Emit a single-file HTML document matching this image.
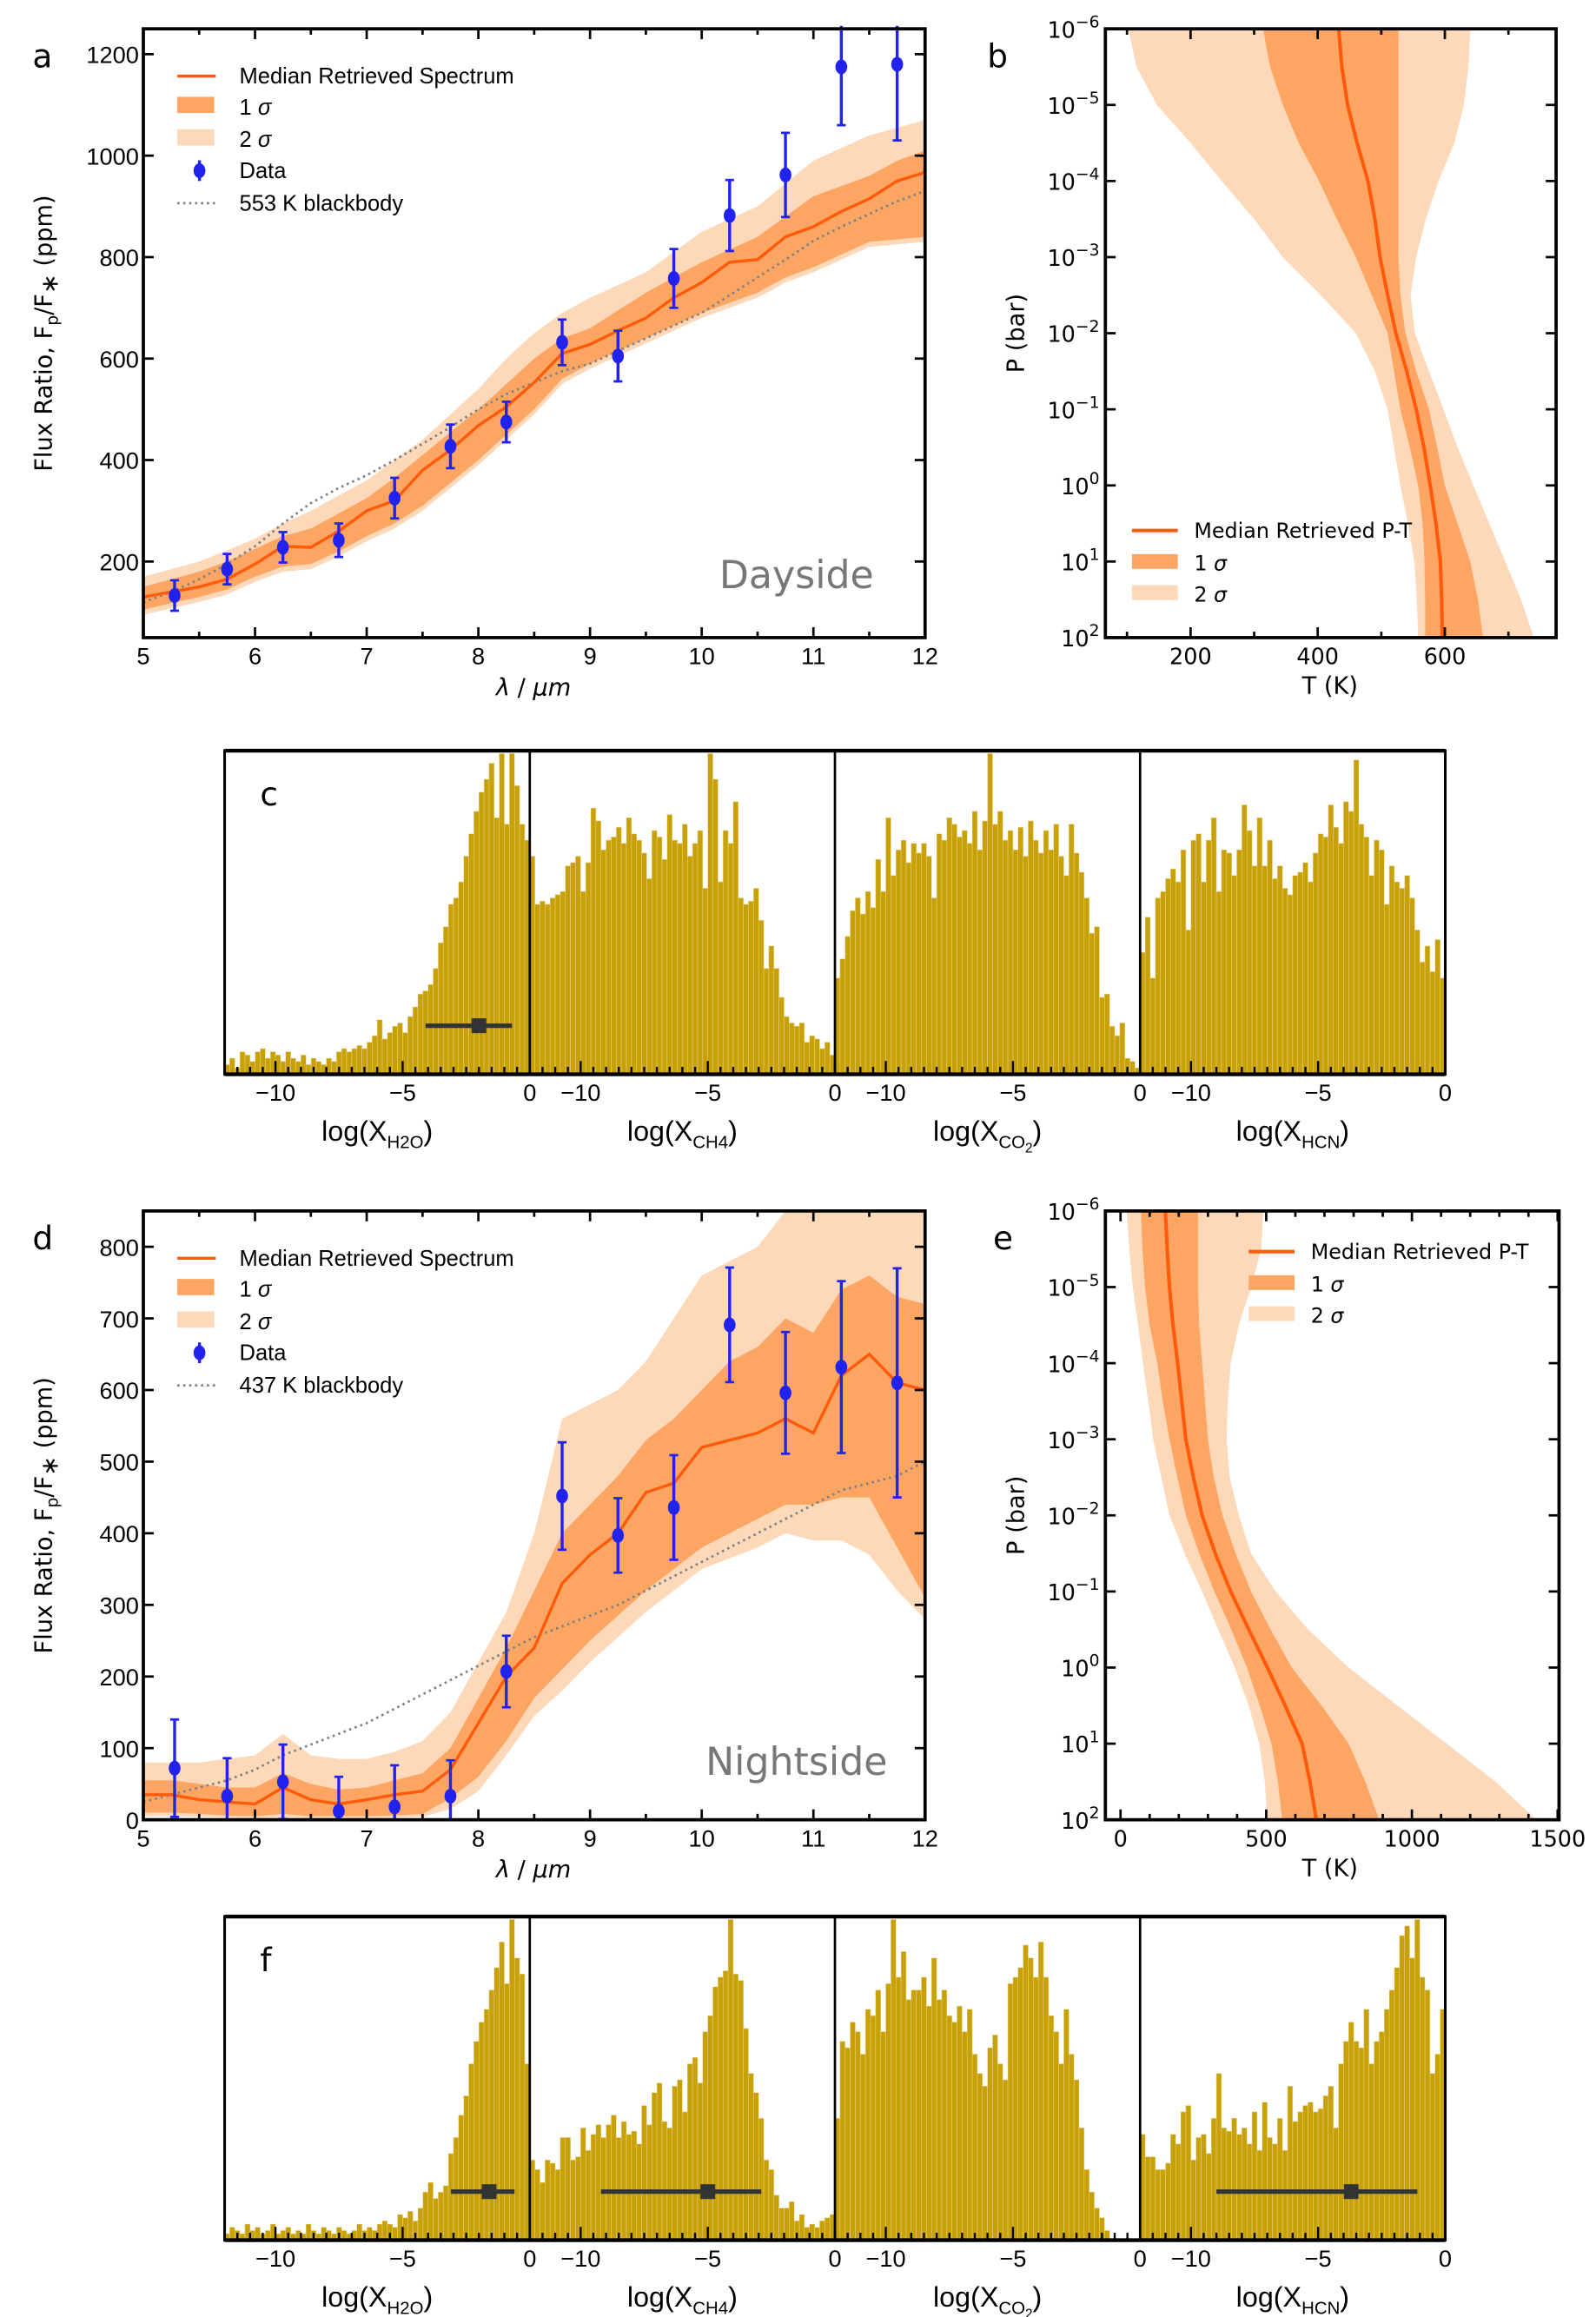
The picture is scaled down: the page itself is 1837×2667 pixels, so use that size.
<!DOCTYPE html>
<html><head><meta charset="utf-8">
<style>
html,body{margin:0;padding:0;background:#fff;}
svg{display:block;}
.tk{font-family:"Liberation Sans Narrow","Liberation Sans",sans-serif;font-size:16px;fill:#000;}
.tkw{font-family:"DejaVu Sans","Liberation Sans",sans-serif;font-size:15px;fill:#000;}
.lg{font-family:"Liberation Sans Narrow","Liberation Sans",sans-serif;font-size:15px;fill:#000;}
.lgw{font-family:"DejaVu Sans","Liberation Sans",sans-serif;font-size:14px;fill:#000;}
.lab{font-family:"DejaVu Sans","Liberation Sans",sans-serif;font-size:16px;fill:#000;}
.lett{font-family:"DejaVu Sans","Liberation Sans",sans-serif;font-size:22px;fill:#000;}
</style></head>
<body>
<svg id="fig" xmlns="http://www.w3.org/2000/svg" width="1837" height="2667" viewBox="0 0 1080 1568" preserveAspectRatio="none"></svg>
<script>
// ---------- DATA ----------
const wlGrid = [5,5.25,5.5,5.75,6,6.25,6.5,6.75,7,7.25,7.5,7.75,8,8.25,8.5,8.75,9,9.25,9.5,9.75,10,10.25,10.5,10.75,11,11.25,11.5,11.75,12];
const dataWl = [5.28,5.75,6.25,6.75,7.25,7.75,8.25,8.75,9.25,9.75,10.25,10.75,11.25,11.75];
// Dayside
const dayData = [133,185,228,242,325,427,475,632,605,758,882,962,1175,1180];
const dayErr = [30,30,30,33,40,43,40,45,50,58,70,83,115,150];
const dayMed = [130,140,150,165,195,230,228,260,300,320,380,420,468,505,553,610,628,655,680,720,750,790,795,840,860,890,915,950,967];
const day1lo = [105,118,130,145,170,190,195,220,250,275,310,355,400,450,500,560,590,615,640,665,690,710,730,760,780,805,830,835,840];
const day1hi = [150,165,180,200,225,250,265,295,325,365,410,455,500,550,600,640,660,695,730,760,790,815,840,880,920,940,960,990,1010];
const day2lo = [95,108,120,135,160,180,185,210,240,265,300,345,390,440,490,550,580,605,630,655,680,700,720,750,770,795,820,825,830];
const day2hi = [170,185,200,222,245,275,300,330,360,400,440,490,540,600,650,690,720,745,770,810,850,875,900,945,990,1015,1040,1055,1070];
const dayBB = [120,140,165,195,230,275,315,345,370,400,432,465,500,530,553,575,590,615,640,665,690,725,760,795,832,860,885,910,930];
// Nightside
const nightData = [72,33,53,12,18,33,207,452,397,436,691,596,632,610];
const nightErr = [68,53,52,48,58,50,50,75,52,73,80,85,120,160];
const nightMed = [35,35,28,25,22,45,28,22,28,35,40,70,135,200,240,330,370,400,457,470,520,530,540,560,540,620,650,610,600];
const night1lo = [10,10,8,6,5,8,5,5,5,6,8,30,60,110,170,210,250,285,320,350,380,400,420,440,440,450,450,380,310];
const night1hi = [55,55,50,45,45,65,50,42,45,55,65,100,170,240,320,400,440,480,530,560,600,640,660,700,680,740,760,730,720];
const night2lo = [5,5,4,3,2,3,2,2,2,3,4,15,40,90,145,180,220,255,290,320,350,365,380,400,390,390,370,320,280];
const night2hi = [80,80,80,85,90,120,90,85,85,95,110,150,220,290,400,560,580,600,640,700,760,780,800,850,850,850,850,850,850];
const nightBB = [25,35,45,55,70,90,105,120,135,155,175,195,215,235,255,270,285,300,320,340,360,380,400,420,440,460,470,480,500];
// P-T profiles (log10 P from -6 to 2, step 0.5)
const logP = [-6,-5.5,-5,-4.5,-4,-3.5,-3,-2.5,-2,-1.5,-1,-0.5,0,0.5,1,1.5,2];
const bMed = [433,438,447,462,479,490,498,510,523,540,555,567,577,586,593,595,596];
const b1lo = [314,325,345,370,402,430,460,485,510,520,530,545,558,565,568,569,569];
const b1hi = [527,527,527,527,527,527,527,530,538,555,575,588,600,620,640,652,660];
const b2lo = [102,115,147,200,249,300,345,405,460,490,510,520,530,542,552,556,558];
const b2hi = [640,637,630,615,590,570,555,546,553,575,598,620,645,670,695,720,740];
const eMed = [154,160,168,180,196,210,224,250,280,325,378,440,504,565,623,650,672];
const e1lo = [70,75,84,100,126,145,168,195,224,270,322,380,434,478,518,540,555];
const e1hi = [266,266,266,270,280,290,300,320,350,395,448,515,588,690,783,840,888];
const e2lo = [21,30,42,60,77,95,112,140,168,220,280,335,392,440,476,495,504];
const e2hi = [490,483,448,406,378,368,364,375,406,448,532,644,783,951,1119,1287,1427];
// Histograms: 60 bins from -12 to 0, relative heights
const cH2O = [.03,.05,.02,.07,.06,.04,.07,.08,.05,.07,.06,.04,.07,.05,.04,.06,.03,.05,.04,.03,.05,.04,.07,.08,.07,
  .08,.09,.08,.10,.12,.17,.11,.13,.15,.16,.13,.18,.21,.25,.26,.28,.33,.41,.46,.53,.55,.60,.68,.75,.82,.88,.92,.97,.80,1.0,.78,1.0,.90,.78,.73];
const cCH4 = [.68,.53,.54,.53,.55,.56,.57,.65,.66,.68,.57,.66,.83,.79,.70,.73,.74,.77,.72,.80,.75,.73,.69,.61,.76,.74,.67,.81,.73,.72,
  .78,.68,.72,.76,.58,1.0,.92,.60,.76,.72,.85,.55,.53,.54,.58,.48,.33,.40,.33,.24,.18,.16,.15,.16,.10,.12,.11,.08,.10,.06];
const cCO2 = [.30,.36,.43,.51,.55,.50,.57,.52,.67,.57,.80,.62,.70,.73,.66,.72,.69,.72,.68,.55,.75,.73,.80,.78,.74,.76,.72,.82,.70,.79,
  1.0,.78,.82,.73,.76,.70,.77,.68,.79,.73,.69,.76,.70,.78,.68,.62,.78,.69,.63,.55,.44,.46,.24,.25,.15,.12,.16,.05,.04,.02];
const cHCN = [.38,.49,.30,.55,.57,.61,.64,.60,.70,.45,.73,.75,.60,.73,.80,.57,.70,.69,.62,.70,.84,.76,.65,.80,.65,.73,.61,.65,.58,.56,
  .62,.63,.66,.60,.69,.75,.74,.84,.77,.72,.85,.82,.98,.78,.74,.62,.73,.70,.53,.65,.60,.58,.62,.55,.45,.35,.40,.32,.42,.30];
const fH2O = [.02,.04,.03,.02,.05,.03,.04,.02,.03,.05,.02,.03,.04,.02,.03,.02,.05,.03,.02,.04,.03,.02,.04,.03,.02,.03,.05,.03,.04,.03,
  .05,.06,.05,.04,.08,.07,.09,.06,.10,.15,.18,.13,.15,.17,.27,.32,.39,.45,.55,.62,.68,.72,.78,.85,.93,.80,1.0,.88,.83,.55];
const fCH4 = [.25,.22,.18,.25,.24,.22,.32,.32,.25,.26,.35,.28,.33,.36,.32,.36,.39,.32,.37,.33,.34,.30,.42,.36,.46,.49,.37,.35,.48,.50,
  .40,.55,.57,.49,.65,.70,.79,.82,.84,1.0,.83,.81,.66,.52,.46,.38,.25,.22,.14,.10,.10,.12,.06,.08,.04,.05,.04,.06,.07,.08];
const fCO2 = [.38,.62,.60,.68,.65,.58,.72,.70,.78,.65,.80,1.0,.82,.90,.75,.78,.78,.82,.73,.88,.75,.78,.70,.68,.73,.65,.72,.58,.52,.48,
  .60,.64,.55,.50,.80,.82,.85,.92,.88,.82,.93,.82,.70,.65,.55,.72,.58,.50,.35,.22,.15,.10,.07,.03,0,0,0,0,0,0];
const fHCN = [.33,.26,.26,.22,.22,.24,.33,.30,.40,.42,.25,.32,.33,.27,.38,.52,.35,.34,.38,.33,.35,.30,.40,.28,.43,.32,.30,.38,.28,.48,
  .37,.40,.42,.43,.40,.41,.45,.48,.35,.55,.62,.68,.62,.60,.72,.55,.62,.65,.72,.78,.85,.95,.98,.88,1.0,.82,.78,.52,.58,.72];
// Error bar summaries [lo, center, hi]
const cErrH2O = [-4.1,-2.0,-0.7];
const fErrH2O = [-3.1,-1.6,-0.6];
const fErrCH4 = [-9.2,-5.0,-2.9];
const fErrHCN = [-9.0,-3.7,-1.1];
const histTickLabels = ["\u221210","\u22125","0"];

// ---------- HELPERS ----------
const NS = "http://www.w3.org/2000/svg";
const svg = document.getElementById('fig');
function mk(tag, attrs, parent){
  const el = document.createElementNS(NS, tag);
  for (const k in attrs) el.setAttribute(k, attrs[k]);
  (parent||svg).appendChild(el);
  return el;
}
function txt(s, x, y, cls, anchor, parent){
  const t = mk('text', {x:x, y:y, class:cls, 'text-anchor':anchor||'middle'}, parent);
  t.textContent = s;
  return t;
}
function lin(d0,d1,r0,r1){ return v => r0 + (v-d0)/(d1-d0)*(r1-r0); }
let clipN = 0;
function clip(x0,y0,x1,y1){
  const id='cp'+(clipN++);
  const cp = mk('clipPath',{id:id});
  mk('rect',{x:x0,y:y0,width:x1-x0,height:y1-y0},cp);
  return 'url(#'+id+')';
}
function band(g, xs, lo, hi, X, Y, fill, horiz){
  let pts=[];
  if(!horiz){
    for(let i=0;i<xs.length;i++) pts.push(X(xs[i])+','+Y(hi[i]));
    for(let i=xs.length-1;i>=0;i--) pts.push(X(xs[i])+','+Y(lo[i]));
  } else {
    for(let i=0;i<xs.length;i++) pts.push(X(hi[i])+','+Y(xs[i]));
    for(let i=xs.length-1;i>=0;i--) pts.push(X(lo[i])+','+Y(xs[i]));
  }
  return mk('polygon',{points:pts.join(' '),fill:fill,stroke:'none'},g);
}
function line(g, xs, ys, X, Y, attrs, horiz){
  const pts = xs.map((v,i)=> horiz ? X(ys[i])+','+Y(v) : X(v)+','+Y(ys[i]));
  const a = Object.assign({points:pts.join(' '),fill:'none'},attrs);
  return mk('polyline',a,g);
}
function tick(g,x1,y1,x2,y2,w){ mk('line',{x1:x1,y1:y1,x2:x2,y2:y2,stroke:'#000','stroke-width':w||1.6},g); }

const C2 = '#fdd9ba', C1 = '#fda664', CM = '#ff5a0a', CD = '#2222ee', CH = '#c8a008';

// ---------- SPECTRUM PANELS ----------
function spectrum(o){
  const L=97,R=626,T=o.top,B=o.top+412;
  const X=lin(5,12,L,R), Y=lin(o.ymin,o.ymax,B,T);
  const g=mk('g',{});
  
  
  const cg=mk('g',{'clip-path':clip(L,T,R,B)},g);
  const b2=band(cg,wlGrid,o.lo2,o.hi2,X,Y,C2);
  
  
  const b1=band(cg,wlGrid,o.lo1,o.hi1,X,Y,C1);
  
  
  const bb=line(cg,wlGrid,o.bb,X,Y,{stroke:'#808080','stroke-width':1.6,'stroke-dasharray':'1.5,2.5'});
  
  
  const md=line(cg,wlGrid,o.med,X,Y,{stroke:CM,'stroke-width':2});
  
  
  const dg=mk('g',{'clip-path':clip(L,T-2,R,B+2)},g);
  for(let i=0;i<dataWl.length;i++){
    const x=X(dataWl[i]), y=Y(o.data[i]), yl=Y(Math.max(o.data[i]-o.err[i],o.ymin)), yh=Y(o.data[i]+o.err[i]);
    const p=mk('g',{},dg);
    
    
    mk('line',{x1:x,y1:yl,x2:x,y2:yh,stroke:CD,'stroke-width':2},p);
    mk('line',{x1:x-3,y1:yl,x2:x+3,y2:yl,stroke:CD,'stroke-width':1.6},p);
    mk('line',{x1:x-3,y1:yh,x2:x+3,y2:yh,stroke:CD,'stroke-width':1.6},p);
    mk('ellipse',{cx:x,cy:y,rx:4,ry:5,fill:CD},p);
  }
  for(let v=5;v<=12;v+=0.5){
    const x=X(v), big=(v%1===0);
    tick(g,x,B,x,B-(big?7:4)); tick(g,x,T,x,T+(big?7:4));
    if(big) txt(String(v),x,B+18,'tk','middle',g);
  }
  o.yt.forEach(v=>{ const y=Y(v); tick(g,L,y,L+7,y); tick(g,R,y,R-7,y); txt(String(v),L-3,y+6,'tk','end',g); });
  mk('rect',{x:L,y:T,width:R-L,height:B-T,fill:'none',stroke:'#000','stroke-width':2.2},g);
  const xl=txt('',361,B+39,'lab','middle',g);
  xl.innerHTML='<tspan font-style="italic">λ</tspan> / <tspan font-style="italic">μm</tspan>';
  
  
  const yl=mk('text',{x:0,y:0,class:'lab','text-anchor':'middle',transform:'translate(35,'+(T+206)+') rotate(-90)'},g);
  yl.innerHTML='Flux Ratio,  F<tspan font-size="11" dy="4">p</tspan><tspan dy="-4">/F</tspan><tspan dy="4">∗</tspan><tspan dy="-4">  (ppm)</tspan>';
  
  
  const lt=txt(o.letter,22,T+26,'lett','start',g);
  
  
  const side=txt(o.side,o.sideX,o.sideY,'lab','middle',g);
  side.setAttribute('style','font-size:26px;fill:#777;font-family:"DejaVu Sans","Liberation Sans",sans-serif');
  
  
  const lg=mk('g',{},g);
  
  
  const ly=T+32;
  mk('line',{x1:120,y1:ly,x2:146,y2:ly,stroke:CM,'stroke-width':2},lg);
  txt('Median Retrieved Spectrum',162,ly+5,'lg','start',lg);
  mk('rect',{x:120,y:ly+14,width:25,height:11,fill:C1},lg);
  txt('1',162,ly+26,'lg','start',lg).innerHTML='1 <tspan font-style="italic">σ</tspan>';
  mk('rect',{x:120,y:ly+36,width:25,height:11,fill:C2},lg);
  txt('2',162,ly+48,'lg','start',lg).innerHTML='2 <tspan font-style="italic">σ</tspan>';
  mk('line',{x1:135,y1:ly+57,x2:135,y2:ly+71,stroke:CD,'stroke-width':2},lg);
  mk('ellipse',{cx:135,cy:ly+64,rx:4,ry:5,fill:CD},lg);
  txt('Data',162,ly+69,'lg','start',lg);
  mk('line',{x1:120,y1:ly+86,x2:146,y2:ly+86,stroke:'#808080','stroke-width':1.6,'stroke-dasharray':'1.5,2.5'},lg);
  txt(o.bbLabel,162,ly+91,'lg','start',lg);
}
spectrum({name:'dayside-spectrum-panel',top:19.5,ymin:50,ymax:1250,yt:[200,400,600,800,1000,1200],data:dayData,err:dayErr,med:dayMed,lo1:day1lo,hi1:day1hi,lo2:day2lo,hi2:day2hi,bb:dayBB,letter:'a',side:'Dayside',sideX:539,sideY:398,bbLabel:'553 K blackbody'});
spectrum({name:'nightside-spectrum-panel',top:819.5,ymin:0,ymax:850,yt:[0,100,200,300,400,500,600,700,800],data:nightData,err:nightErr,med:nightMed,lo1:night1lo,hi1:night1hi,lo2:night2lo,hi2:night2hi,bb:nightBB,letter:'d',side:'Nightside',sideX:539,sideY:1201,bbLabel:'437 K blackbody'});

// ---------- P-T PANELS ----------
function ptPanel(o){
  const L=748,R=o.R,T=o.top,B=o.top+412;
  const X=lin(o.tmin,o.tmax,L,R), Y=lin(-6,2,T,B);
  const g=mk('g',{});
  
  
  const cg=mk('g',{'clip-path':clip(L,T,R,B)},g);
  const b2=band(cg,logP,o.lo2,o.hi2,X,Y,C2,true);
  
  
  const b1=band(cg,logP,o.lo1,o.hi1,X,Y,C1,true);
  
  
  const md=line(cg,logP,o.med,X,Y,{stroke:CM,'stroke-width':2.4},true);
  
  
  o.minor.forEach(v=>{ const x=X(v); tick(g,x,B,x,B-4); tick(g,x,T,x,T+4); });
  o.major.forEach(v=>{ const x=X(v); tick(g,x,B,x,B-7); tick(g,x,T,x,T+7); txt(String(v),x,B+18,'tkw','middle',g); });
  for(let p=-6;p<=2;p++){
    const y=Y(p); tick(g,L,y,L+7,y); tick(g,R,y,R-7,y);
    const t=txt('',L-4,y+6,'tkw','end',g);
    t.innerHTML='10<tspan font-size="11" dy="-7">'+(p<0?'\u2212'+(-p):p)+'</tspan>';
  }
  mk('rect',{x:L,y:T,width:R-L,height:B-T,fill:'none',stroke:'#000','stroke-width':2.2},g);
  const xl=txt('T (K)',900,B+38,'lab','middle',g);
  
  
  const yl=mk('text',{x:0,y:0,class:'lab','text-anchor':'middle',transform:'translate(693,'+(T+206)+') rotate(-90)'},g);
  yl.textContent='P (bar)';
  
  
  const lt=txt(o.letter,o.letterX,T+26,'lett','start',g);
  
  
  const lg=mk('g',{},g);
  
  
  const lx=o.lx, ly=o.ly;
  mk('line',{x1:lx,y1:ly,x2:lx+31,y2:ly,stroke:CM,'stroke-width':2.4},lg);
  txt('Median Retrieved P-T',lx+42,ly+5,'lgw','start',lg);
  mk('rect',{x:lx,y:ly+16,width:31,height:10,fill:C1},lg);
  txt('',lx+42,ly+27,'lgw','start',lg).innerHTML='1 <tspan font-style="italic">σ</tspan>';
  mk('rect',{x:lx,y:ly+37,width:31,height:10,fill:C2},lg);
  txt('',lx+42,ly+48,'lgw','start',lg).innerHTML='2 <tspan font-style="italic">σ</tspan>';
}
ptPanel({name:'dayside-pt-panel',top:19.5,R:1053,tmin:66,tmax:775,major:[200,400,600],minor:[100,300,500,700],med:bMed,lo1:b1lo,hi1:b1hi,lo2:b2lo,hi2:b2hi,letter:'b',letterX:668,lx:766,ly:359});
ptPanel({name:'nightside-pt-panel',top:819.5,R:1055,tmin:-52,tmax:1505,major:[0,500,1000,1500],minor:[100,200,300,400,600,700,800,900,1100,1200,1300,1400],med:eMed,lo1:e1lo,hi1:e1hi,lo2:e2lo,hi2:e2hi,letter:'e',letterX:672,lx:845,ly:847});

// ---------- HISTOGRAM PANELS ----------
const molLabels = [['H2O',false],['CH4',false],['CO',true],['HCN',false]];
function histRow(o){
  const L=152,R=978,T=o.top,B=o.top+219, W=(R-L)/4;
  const g=mk('g',{});
  
  
  o.hists.forEach((h,k)=>{
    const x0=L+k*W, X=lin(-12,0,x0,x0+W), Y=lin(0,1.0,B,T+2);
    const sg=mk('g',{'clip-path':clip(x0,T,x0+W,B)},g);
    
    
    const bw=12/h.length;
    h.forEach((v,i)=>{
      const xa=X(-12+i*bw), xb=X(-12+(i+1)*bw);
      const r=mk('rect',{x:xa,y:Y(v),width:xb-xa,height:B-Y(v),fill:CH,stroke:'#e8d48a','stroke-width':0.3},sg);
      
      
    });
    const e=o.errs[k];
    if(e){
      const ey=B-0.15*(B-T);
      const eg=mk('g',{},g);
      
      
      mk('line',{x1:X(e[0]),y1:ey,x2:X(e[2]),y2:ey,stroke:'#333','stroke-width':3},eg);
      mk('rect',{x:X(e[1])-5,y:ey-5,width:10,height:10,fill:'#333'},eg);
    }
    for(let v=-12;v<=0;v+=0.5){
      const x=X(v), big=(v%5===0);
      tick(g,x,B,x,B-(big?9:5),1.4);
    }
    [-10,-5,0].forEach((v,j)=>txt(histTickLabels[j],X(v),B+18,'tk','middle',g));
    if(k>0) mk('line',{x1:x0,y1:T,x2:x0,y2:B,stroke:'#000','stroke-width':1.6},g);
    const lab=txt('',x0+W/2,B+45,'tk','middle',g);
    lab.setAttribute('style','font-size:19px');
    const m=molLabels[k];
    lab.innerHTML = m[1] ? 'log(X<tspan font-size="12" dy="5">CO</tspan><tspan font-size="9" dy="3">2</tspan><tspan dy="-8">)</tspan>'
                         : 'log(X<tspan font-size="12" dy="5">'+m[0]+'</tspan><tspan dy="-5">)</tspan>';
    
    
  });
  mk('rect',{x:L,y:T,width:R-L,height:B-T,fill:'none',stroke:'#000','stroke-width':1.8},g);
  mk('line',{x1:L,y1:T,x2:R,y2:T,stroke:'#000','stroke-width':2.6},g);
  mk('line',{x1:L,y1:B,x2:R,y2:B,stroke:'#000','stroke-width':2.6},g);
  const lt=txt(o.letter,176,T+37,'lett','start',g);
  
  
}
histRow({name:'dayside-abundance-histograms',top:508,hists:[cH2O,cCH4,cCO2,cHCN],errs:[cErrH2O,null,null,null],letter:'c'});
histRow({name:'nightside-abundance-histograms',top:1297,hists:[fH2O,fCH4,fCO2,fHCN],errs:[fErrH2O,fErrCH4,null,fErrHCN],letter:'f'});
</script>
</body></html>
